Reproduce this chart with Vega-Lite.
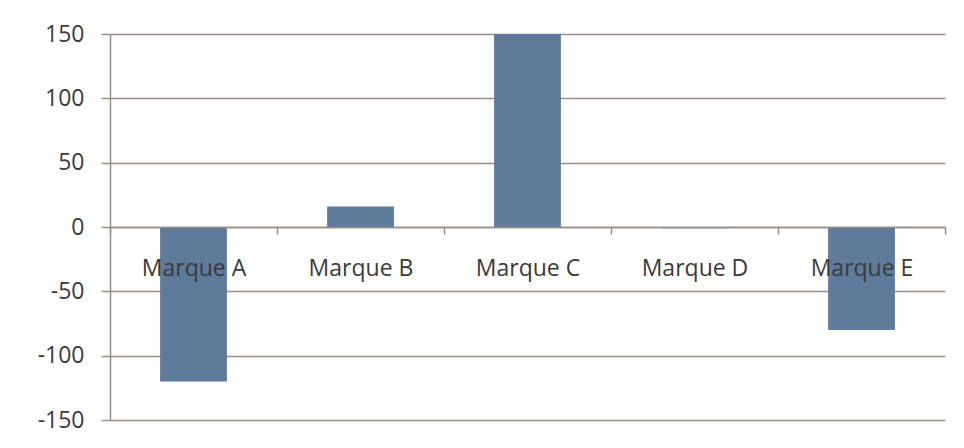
{
  "$schema": "https://vega.github.io/schema/vega-lite/v6.json",
  "width": 835,
  "height": 386,
  "autosize": {"type": "none"},
  "padding": {"left": 110, "top": 34, "right": 19, "bottom": 28},
  "background": "white",
  "data": {
    "values": [
      {"marque": "Marque A", "valeur": -120},
      {"marque": "Marque B", "valeur": 16},
      {"marque": "Marque C", "valeur": 150},
      {"marque": "Marque D", "valeur": -1},
      {"marque": "Marque E", "valeur": -80}
    ]
  },
  "mark": {"type": "bar", "color": "#5f7b9c", "width": {"band": 0.4}},
  "encoding": {
    "x": {
      "field": "marque",
      "type": "nominal",
      "sort": null,
      "scale": {"paddingInner": 0, "paddingOuter": 0},
      "axis": {
        "title": null,
        "labelAngle": 0,
        "offset": -193,
        "tickBand": "extent",
        "tickSize": 7,
        "labelPadding": 23,
        "zindex": 1,
        "grid": false
      }
    },
    "y": {
      "field": "valeur",
      "type": "quantitative",
      "scale": {"domain": [-150, 150], "nice": false, "zero": false},
      "axis": {
        "title": null,
        "values": [-150, -100, -50, 0, 50, 100, 150],
        "labelExpr": "'' + datum.value",
        "tickSize": 9,
        "labelPadding": 17,
        "grid": true
      }
    }
  },
  "config": {
    "view": {"stroke": null},
    "axis": {
      "labelFont": "Open Sans",
      "labelFontSize": 23,
      "labelColor": "#3a3a3a",
      "domainColor": "#998c8a",
      "domainWidth": 1.5,
      "tickColor": "#998c8a",
      "tickWidth": 1.5,
      "gridColor": "#998c8a",
      "gridWidth": 1.5,
      "gridOpacity": 1,
      "domainOpacity": 1,
      "tickOpacity": 1
    }
  }
}
